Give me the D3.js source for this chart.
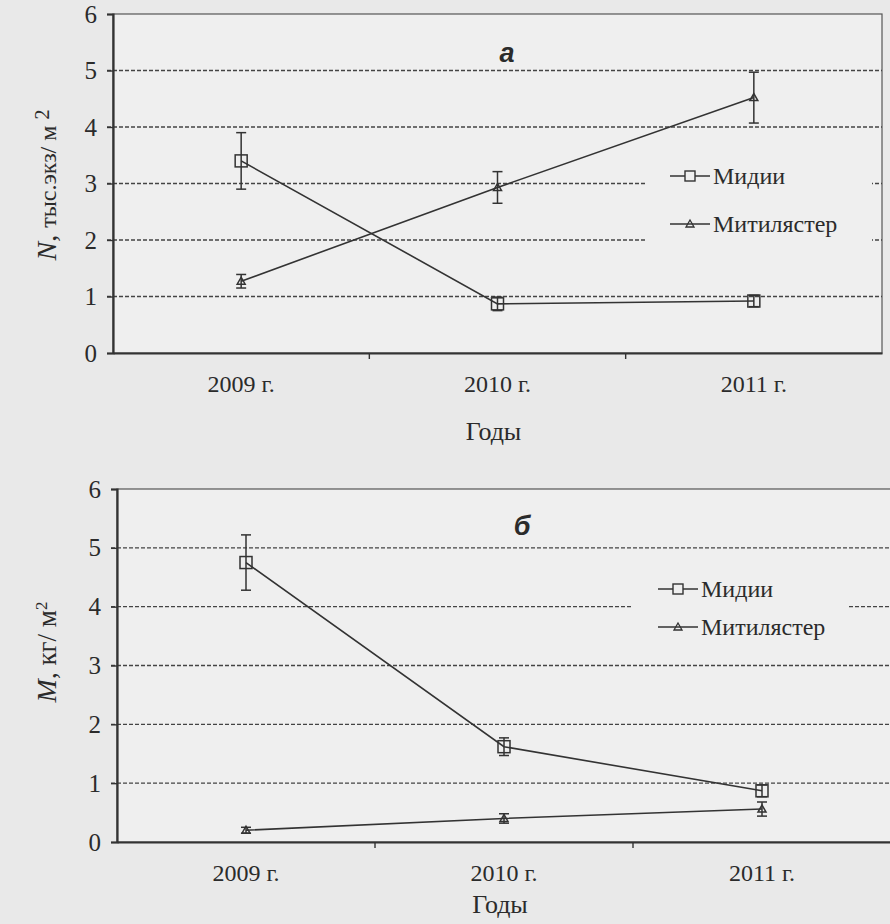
<!DOCTYPE html>
<html>
<head>
<meta charset="utf-8">
<script src="https://cdn.jsdelivr.net/npm/d3@7"></script>
<style>
  body { margin: 0; background: #e9e9e9; }
  svg { display: block; }
</style>
</head>
<body>
<svg id="chart" width="890" height="924"></svg>
<script>
const years = ['2009 г.', '2010 г.', '2011 г.'];
const yTicks = [0, 1, 2, 3, 4, 5, 6];

// panel a: density, thousand ind./m2
const musselsN = [3.4, 0.87, 0.92];
const musselsNErr = [0.5, 0.12, 0.1];
const mytilasterN = [1.27, 2.93, 4.52];
const mytilasterNErr = [0.12, 0.28, 0.45];

// panel b: biomass, kg/m2
const musselsM = [4.75, 1.62, 0.87];
const musselsMErr = [0.47, 0.15, 0.1];
const mytilasterM = [0.2, 0.4, 0.56];
const mytilasterMErr = [0.05, 0.08, 0.12];

const seriesNames = ['Мидии', 'Митилястер'];

const serif = '"Liberation Serif", "DejaVu Serif", serif';
const svg = d3.select('#chart').attr('font-family', serif);
const ink = '#333';
const txt = '#2b2b2b';

function drawPanel(cfg) {
  const x = d3.scaleBand().domain(years).range([cfg.left, cfg.right]);
  const y = d3.scaleLinear().domain([0, 6]).range([cfg.bottom, cfg.top]);
  const g = svg.append('g');

  g.append('rect')
    .attr('x', cfg.left).attr('y', cfg.top)
    .attr('width', cfg.right - cfg.left).attr('height', cfg.bottom - cfg.top)
    .attr('fill', '#efefef')
    .attr('stroke', '#555').attr('stroke-width', 1.2);

  // dashed grid
  g.selectAll('.grid')
    .data(yTicks.filter(d => d > 0 && d < 6))
    .enter().append('line')
    .attr('x1', cfg.left - 6).attr('x2', cfg.right)
    .attr('y1', d => y(d)).attr('y2', d => y(d))
    .attr('stroke', '#444').attr('stroke-width', 1.4)
    .attr('stroke-dasharray', '4,2');

  // legend box hides the grid
  g.append('rect')
    .attr('x', cfg.legend.x0).attr('y', cfg.legend.y0)
    .attr('width', cfg.legend.x1 - cfg.legend.x0).attr('height', cfg.legend.y1 - cfg.legend.y0)
    .attr('fill', '#efefef');

  const yAxis = g.append('g')
    .attr('transform', 'translate(' + cfg.left + ',0)')
    .call(d3.axisLeft(y).tickValues(yTicks).tickSize(6).tickFormat(d3.format('d')));
  yAxis.attr('font-family', serif);
  yAxis.select('.domain').attr('stroke', ink).attr('stroke-width', 2.2);
  yAxis.selectAll('.tick line').attr('stroke', ink).attr('stroke-width', 1.4);
  yAxis.selectAll('.tick text')
    .attr('x', -16).attr('font-size', 25).attr('fill', txt);

  const xAxis = g.append('g')
    .attr('transform', 'translate(0,' + cfg.bottom + ')')
    .call(d3.axisBottom(x).tickSize(0).tickPadding(22));
  xAxis.attr('font-family', serif);
  xAxis.select('.domain').attr('stroke', ink).attr('stroke-width', 2.2);
  xAxis.selectAll('.tick text')
    .attr('font-size', 24).attr('fill', txt);

  // small ticks between categories
  g.selectAll('.sep')
    .data(years.slice(1))
    .enter().append('line')
    .attr('x1', d => x(d)).attr('x2', d => x(d))
    .attr('y1', cfg.bottom).attr('y2', cfg.bottom + 6)
    .attr('stroke', ink).attr('stroke-width', 1.4);

  const line = d3.line()
    .x((d, i) => x(years[i]) + x.bandwidth() / 2)
    .y(d => y(d));

  cfg.series.forEach((s, si) => {
    g.append('path')
      .datum(s.values)
      .attr('d', line)
      .attr('fill', 'none')
      .attr('stroke', ink).attr('stroke-width', 1.6);

    const pts = g.selectAll('.pt' + si)
      .data(s.values.map((v, i) => ({ v: v, e: s.errs[i], yr: years[i] })))
      .enter().append('g')
      .attr('transform', d => 'translate(' + (x(d.yr) + x.bandwidth() / 2) + ',0)');

    pts.append('line')
      .attr('y1', d => y(d.v + d.e)).attr('y2', d => y(d.v - d.e))
      .attr('stroke', ink).attr('stroke-width', 1.5);
    pts.append('line')
      .attr('x1', -5).attr('x2', 5)
      .attr('y1', d => y(d.v + d.e)).attr('y2', d => y(d.v + d.e))
      .attr('stroke', ink).attr('stroke-width', 1.5);
    pts.append('line')
      .attr('x1', -5).attr('x2', 5)
      .attr('y1', d => y(d.v - d.e)).attr('y2', d => y(d.v - d.e))
      .attr('stroke', ink).attr('stroke-width', 1.5);

    if (si === 0) {
      pts.append('rect')
        .attr('x', -6).attr('y', d => y(d.v) - 6)
        .attr('width', 12).attr('height', 12)
        .attr('fill', 'none').attr('stroke', ink).attr('stroke-width', 1.5);
    } else {
      pts.append('path')
        .attr('d', d => 'M-4,' + (y(d.v) + 3) + 'L4,' + (y(d.v) + 3) + 'L0,' + (y(d.v) - 4) + 'Z')
        .attr('fill', 'none').attr('stroke', ink).attr('stroke-width', 1.5);
    }
  });

  // legend
  seriesNames.forEach((name, i) => {
    const ly = cfg.legend.rows[i];
    const lx = cfg.legend.lineX;
    g.append('line')
      .attr('x1', lx).attr('x2', lx + 40)
      .attr('y1', ly).attr('y2', ly)
      .attr('stroke', ink).attr('stroke-width', 1.5);
    if (i === 0) {
      g.append('rect')
        .attr('x', lx + 15).attr('y', ly - 5).attr('width', 10).attr('height', 10)
        .attr('fill', '#efefef').attr('stroke', ink).attr('stroke-width', 1.4);
    } else {
      g.append('path')
        .attr('d', 'M' + (lx + 16) + ',' + (ly + 3) + 'L' + (lx + 24) + ',' + (ly + 3) + 'L' + (lx + 20) + ',' + (ly - 4) + 'Z')
        .attr('fill', 'none').attr('stroke', ink).attr('stroke-width', 1.3);
    }
    g.append('text')
      .attr('x', lx + 43).attr('y', ly).attr('dy', '0.35em')
      .attr('font-size', 24).attr('fill', txt)
      .text(name);
  });

  // panel letter
  g.append('text')
    .attr('x', cfg.letter[0]).attr('y', cfg.letter[1])
    .attr('text-anchor', 'middle')
    .attr('font-family', '"Liberation Sans", Arial, sans-serif')
    .attr('font-weight', 'bold').attr('font-style', 'italic')
    .attr('font-size', 27).attr('fill', txt)
    .text(cfg.letterText);

  // x title
  g.append('text')
    .attr('x', (cfg.left + cfg.right) / 2 - 4).attr('y', cfg.xTitleY)
    .attr('text-anchor', 'middle')
    .attr('font-size', 26).attr('fill', txt)
    .text('Годы');

  // y title
  const yt = g.append('text')
    .attr('transform', 'translate(' + cfg.yTitle[0] + ',' + cfg.yTitle[1] + ') rotate(-90)')
    .attr('text-anchor', 'middle').attr('fill', txt);
  cfg.yTitleParts.forEach(p => {
    const t = yt.append('tspan').text(p.t).attr('font-size', p.size);
    if (p.italic) t.attr('font-style', 'italic');
    if (p.dy) t.attr('dy', p.dy);
  });
}

drawPanel({
  left: 113, right: 882, top: 14, bottom: 353,
  series: [
    { values: musselsN, errs: musselsNErr },
    { values: mytilasterN, errs: mytilasterNErr }
  ],
  legend: { x0: 646, x1: 872, y0: 150, y1: 250, lineX: 670, rows: [176, 224] },
  letter: [507, 62], letterText: 'а',
  xTitleY: 440,
  yTitle: [56, 185],
  yTitleParts: [
    { t: 'N', italic: true, size: 28 },
    { t: ', ', size: 28 },
    { t: 'тыс.экз/ м ', size: 24 },
    { t: '2', size: 20, dy: -7 }
  ]
});

drawPanel({
  left: 117, right: 891, top: 489, bottom: 842,
  series: [
    { values: musselsM, errs: musselsMErr },
    { values: mytilasterM, errs: mytilasterMErr }
  ],
  legend: { x0: 633, x1: 848, y0: 567, y1: 645, lineX: 658, rows: [589, 627] },
  letter: [522, 535], letterText: 'б',
  xTitleY: 913,
  yTitle: [56, 652],
  yTitleParts: [
    { t: 'M', italic: true, size: 28 },
    { t: ', кг/ м', size: 27 },
    { t: '2', size: 17, dy: -9 }
  ]
});
</script>
</body>
</html>
